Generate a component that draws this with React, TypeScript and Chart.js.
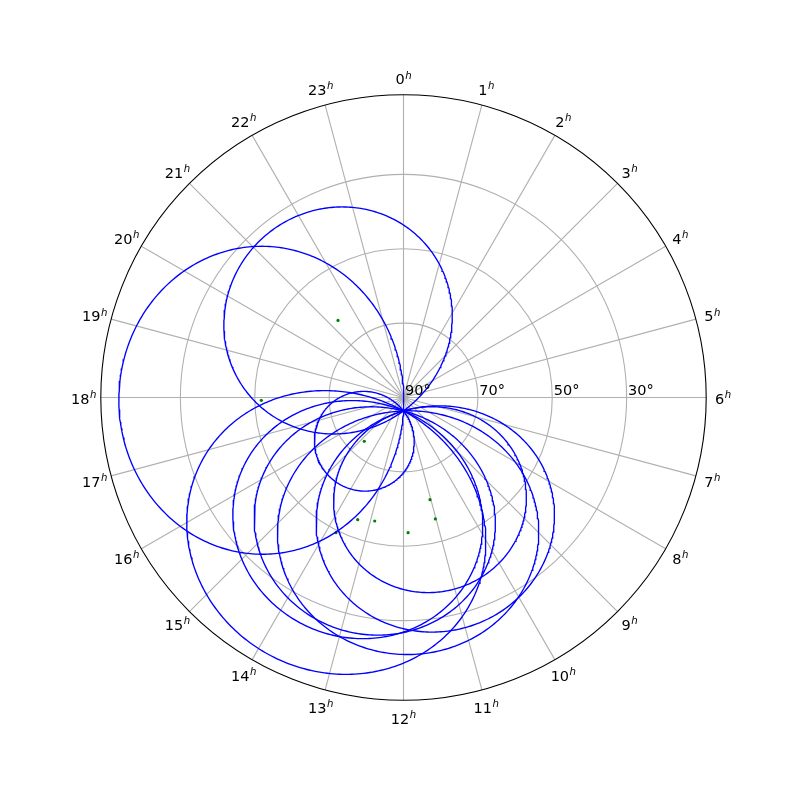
import React, { useEffect, useRef } from 'react';
import { Chart, registerables } from 'chart.js';

Chart.register(...registerables);

// Hour-angle tick labels (clockwise from top)
const hourLabels = ['0', '1', '2', '3', '4', '5', '6', '7', '8', '9', '10', '11', '12', '13', '14', '15', '16', '17', '18', '19', '20', '21', '22', '23'];
// Radial tick labels (altitude, degrees); centre is 90°
const altitudeTicks = [90, 70, 50, 30];
// Rim of the plot, in degrees of zenith distance
const rimZenithDistance = 81.4;

// Circle centres (green dots): hour angle (h) and altitude (deg)
const centerHours = [21.31, 17.925, 14.79, 13.37, 12.875, 11.87, 11.03, 11.02, 13.77];
const centerAltitudes = [62.8, 51.76, 74.2, 54.91, 55.9, 53.63, 61.61, 56.23, 49.37];
// Common point that every circle passes through
const commonHour = 12;
const commonAltitude = 86.4;

const DEG = Math.PI / 180;
type V3 = [number, number, number];

function toVec(hour: number, alt: number): V3 {
  const z = (90 - alt) * DEG;
  const az = hour * 15 * DEG;
  return [Math.sin(z) * Math.sin(az), Math.sin(z) * Math.cos(az), Math.cos(z)];
}
function cross(a: V3, b: V3): V3 {
  return [a[1] * b[2] - a[2] * b[1], a[2] * b[0] - a[0] * b[2], a[0] * b[1] - a[1] * b[0]];
}
function norm(a: V3): V3 {
  const l = Math.hypot(a[0], a[1], a[2]);
  return [a[0] / l, a[1] / l, a[2] / l];
}
function project(v: V3) {
  const zd = Math.acos(Math.max(-1, Math.min(1, v[2]))) / DEG;
  const az = Math.atan2(v[0], v[1]);
  return { x: zd * Math.sin(az), y: zd * Math.cos(az) };
}
function projectHA(hour: number, alt: number) {
  const zd = 90 - alt;
  const az = hour * 15 * DEG;
  return { x: zd * Math.sin(az), y: zd * Math.cos(az) };
}

function smallCircle(hour: number, alt: number) {
  const c = toVec(hour, alt);
  const p = toVec(commonHour, commonAltitude);
  const d = Math.acos(c[0] * p[0] + c[1] * p[1] + c[2] * p[2]);
  const ref: V3 = Math.abs(c[2]) < 0.9 ? [0, 0, 1] : [1, 0, 0];
  const u = norm(cross(c, ref));
  const w = cross(c, u);
  const pts: { x: number; y: number }[] = [];
  for (let i = 0; i <= 360; i++) {
    const t = i * DEG;
    const v: V3 = [0, 1, 2].map(
      (k) => c[k] * Math.cos(d) + (u[k] * Math.cos(t) + w[k] * Math.sin(t)) * Math.sin(d)
    ) as V3;
    pts.push(project(v));
  }
  return pts;
}

const FONT = '"DejaVu Sans", sans-serif';

function drawHourLabel(ctx: CanvasRenderingContext2D, text: string, x: number, y: number) {
  ctx.font = `14.5px ${FONT}`;
  const wNum = ctx.measureText(text).width;
  ctx.font = `italic 10.2px ${FONT}`;
  const wH = ctx.measureText('h').width;
  const total = wNum + wH + 0.5;
  const left = x - total / 2;
  const baseline = y + 6.3;
  ctx.fillStyle = '#000';
  ctx.textAlign = 'left';
  ctx.textBaseline = 'alphabetic';
  ctx.font = `14.5px ${FONT}`;
  ctx.fillText(text, left, baseline);
  ctx.font = `italic 10.2px ${FONT}`;
  ctx.fillText('h', left + wNum + 0.5, baseline - 5.5);
}

const polarGrid = {
  id: 'polarGrid',
  beforeDatasetsDraw(chart: any) {
    const { ctx } = chart;
    const xs = chart.scales.x;
    const ys = chart.scales.y;
    const cx = xs.getPixelForValue(0);
    const cy = ys.getPixelForValue(0);
    const k = (xs.getPixelForValue(rimZenithDistance) - cx) / rimZenithDistance;
    const rim = rimZenithDistance * k;
    ctx.save();
    ctx.strokeStyle = '#b0b0b0';
    ctx.lineWidth = 1.1;
    for (const alt of altitudeTicks) {
      const r = (90 - alt) * k;
      if (r <= 0) continue;
      ctx.beginPath();
      ctx.arc(cx, cy, r, 0, Math.PI * 2);
      ctx.stroke();
    }
    hourLabels.forEach((_, i) => {
      const a = i * 15 * DEG;
      ctx.beginPath();
      ctx.moveTo(cx, cy);
      ctx.lineTo(cx + rim * Math.sin(a), cy - rim * Math.cos(a));
      ctx.stroke();
    });
    ctx.restore();
  },
  afterDatasetsDraw(chart: any) {
    const { ctx } = chart;
    const xs = chart.scales.x;
    const ys = chart.scales.y;
    const cx = xs.getPixelForValue(0);
    const cy = ys.getPixelForValue(0);
    const k = (xs.getPixelForValue(rimZenithDistance) - cx) / rimZenithDistance;
    const rim = rimZenithDistance * k;
    ctx.save();
    ctx.strokeStyle = '#000';
    ctx.lineWidth = 1.1;
    ctx.beginPath();
    ctx.arc(cx, cy, rim, 0, Math.PI * 2);
    ctx.stroke();
    // radial labels
    ctx.fillStyle = '#000';
    ctx.font = `14.5px ${FONT}`;
    ctx.textAlign = 'left';
    ctx.textBaseline = 'alphabetic';
    for (const alt of altitudeTicks) {
      const r = (90 - alt) * k;
      ctx.fillText(`${alt}°`, cx + r + 1.5, cy - 2.5);
    }
    // hour labels
    const lr = rim + 17;
    hourLabels.forEach((lab, i) => {
      const a = i * 15 * DEG;
      drawHourLabel(ctx, lab, cx + lr * Math.sin(a), cy - lr * Math.cos(a));
    });
    ctx.restore();
  },
};

export default function App() {
  const ref = useRef<HTMLCanvasElement>(null);
  useEffect(() => {
    if (!ref.current) return;
    const circleSets = centerHours.map((h, i) => ({
      type: 'scatter' as const,
      data: smallCircle(h, centerAltitudes[i]),
      showLine: true,
      borderColor: '#0000ff',
      borderWidth: 1.35,
      pointRadius: 0,
      fill: false,
      tension: 0,
    }));
    const dots = {
      type: 'scatter' as const,
      data: centerHours.map((h, i) => projectHA(h, centerAltitudes[i])),
      showLine: false,
      pointRadius: 1.6,
      pointBorderWidth: 0,
      pointBackgroundColor: '#008000',
      borderColor: '#008000',
    };
    const chart = new Chart(ref.current, {
      type: 'scatter',
      data: { datasets: [...circleSets, dots] as any },
      options: {
        animation: false,
        responsive: false,
        maintainAspectRatio: false,
        events: [],
        layout: { padding: { left: 100.8, right: 82.8, top: 94.8, bottom: 88.8 } },
        plugins: { legend: { display: false }, tooltip: { enabled: false } },
        scales: {
          x: { type: 'linear', min: -rimZenithDistance, max: rimZenithDistance, display: false },
          y: { type: 'linear', min: -rimZenithDistance, max: rimZenithDistance, display: false },
        },
      },
      plugins: [polarGrid],
    });
    return () => chart.destroy();
  }, []);
  return (
    <div style={{ position: 'fixed', left: 0, top: 0, width: 789, height: 789, background: '#fff' }}>
      <canvas ref={ref} width={789} height={789} style={{ width: 789, height: 789, display: 'block' }} />
    </div>
  );
}
